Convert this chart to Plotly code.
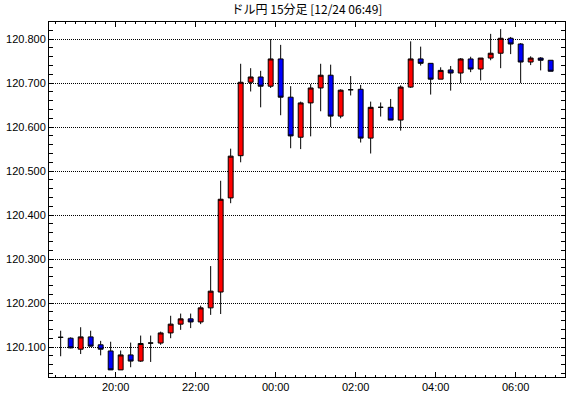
import pandas as pd
import plotly.graph_objects as go

title_text = "ドル円 15分足 [12/24 06:49]"

times = [
    "2015-12-23 18:30", "2015-12-23 18:45", "2015-12-23 19:00", "2015-12-23 19:15",
    "2015-12-23 19:30", "2015-12-23 19:45", "2015-12-23 20:00", "2015-12-23 20:15",
    "2015-12-23 20:30", "2015-12-23 20:45", "2015-12-23 21:00", "2015-12-23 21:15",
    "2015-12-23 21:30", "2015-12-23 21:45", "2015-12-23 22:00", "2015-12-23 22:15",
    "2015-12-23 22:30", "2015-12-23 22:45", "2015-12-23 23:00", "2015-12-23 23:15",
    "2015-12-23 23:30", "2015-12-23 23:45", "2015-12-24 00:00", "2015-12-24 00:15",
    "2015-12-24 00:30", "2015-12-24 00:45", "2015-12-24 01:00", "2015-12-24 01:15",
    "2015-12-24 01:30", "2015-12-24 01:45", "2015-12-24 02:00", "2015-12-24 02:15",
    "2015-12-24 02:30", "2015-12-24 02:45", "2015-12-24 03:00", "2015-12-24 03:15",
    "2015-12-24 03:30", "2015-12-24 03:45", "2015-12-24 04:00", "2015-12-24 04:15",
    "2015-12-24 04:30", "2015-12-24 04:45", "2015-12-24 05:00", "2015-12-24 05:15",
    "2015-12-24 05:30", "2015-12-24 05:45", "2015-12-24 06:00", "2015-12-24 06:15",
    "2015-12-24 06:30", "2015-12-24 06:45",
]

opens = [120.122, 120.120, 120.095, 120.123, 120.105, 120.091, 120.048, 120.082,
         120.068, 120.109, 120.109, 120.132, 120.152, 120.164, 120.157, 120.189,
         120.225, 120.439, 120.535, 120.702, 120.714, 120.693, 120.755, 120.668,
         120.577, 120.655, 120.689, 120.718, 120.625, 120.685, 120.686, 120.575,
         120.645, 120.645, 120.616, 120.691, 120.755, 120.745, 120.709, 120.730,
         120.723, 120.755, 120.732, 120.757, 120.768, 120.802, 120.789, 120.748,
         120.757, 120.752]
highs = [120.137, 120.122, 120.145, 120.137, 120.114, 120.112, 120.092, 120.110,
         120.126, 120.126, 120.135, 120.171, 120.176, 120.176, 120.194, 120.284,
         120.478, 120.551, 120.744, 120.734, 120.728, 120.800, 120.787, 120.693,
         120.658, 120.698, 120.744, 120.742, 120.686, 120.716, 120.696, 120.658,
         120.656, 120.664, 120.695, 120.795, 120.783, 120.745, 120.736, 120.739,
         120.757, 120.760, 120.757, 120.812, 120.823, 120.805, 120.791, 120.761,
         120.759, 120.752]
lows = [120.079, 120.097, 120.084, 120.101, 120.081, 120.048, 120.048, 120.054,
        120.066, 120.066, 120.105, 120.120, 120.139, 120.143, 120.152, 120.173,
        120.175, 120.427, 120.520, 120.681, 120.645, 120.689, 120.627, 120.552,
        120.550, 120.579, 120.636, 120.600, 120.620, 120.672, 120.565, 120.540,
        120.624, 120.616, 120.592, 120.689, 120.740, 120.674, 120.709, 120.683,
        120.700, 120.725, 120.706, 120.752, 120.734, 120.766, 120.700, 120.741,
        120.729, 120.727]
closes = [120.122, 120.098, 120.123, 120.102, 120.095, 120.048, 120.082, 120.068,
          120.108, 120.109, 120.132, 120.152, 120.164, 120.157, 120.189, 120.227,
          120.436, 120.534, 120.702, 120.714, 120.693, 120.755, 120.668, 120.580,
          120.655, 120.689, 120.718, 120.625, 120.684, 120.685, 120.575, 120.645,
          120.645, 120.616, 120.691, 120.755, 120.745, 120.709, 120.729, 120.723,
          120.755, 120.732, 120.757, 120.768, 120.802, 120.789, 120.748, 120.757,
          120.752, 120.727]

# candles centred in the middle of their 15-minute bucket
x_pos = pd.to_datetime(times) + pd.Timedelta(minutes=7.5)

fig = go.Figure(go.Candlestick(
    x=x_pos, open=opens, high=highs, low=lows, close=closes,
    increasing=dict(line=dict(color="black", width=1), fillcolor="#ff0000"),
    decreasing=dict(line=dict(color="black", width=1), fillcolor="#0000ff"),
    whiskerwidth=0,
    showlegend=False,
    hoverinfo="x+y",
))

tick_font = dict(family="Liberation Sans, Arial, sans-serif", size=11, color="black")

fig.update_layout(
    width=570, height=398,
    margin=dict(l=49, r=5, t=22, b=21),
    paper_bgcolor="white", plot_bgcolor="white",
    title=dict(text=title_text, x=0.5, xref="paper", xanchor="center",
               y=1 - 10 / 398, yref="container", yanchor="middle",
               font=dict(family="Noto Sans CJK JP, sans-serif", size=12, color="black")),
    xaxis=dict(
        type="date",
        range=["2015-12-23 18:20", "2015-12-24 07:14"],
        rangeslider=dict(visible=False),
        tick0="2015-12-23 20:00", dtick=7200000, tickformat="%H:%M",
        ticks="inside", ticklen=5, tickcolor="black", tickwidth=1,
        showline=True, linecolor="black", linewidth=1, mirror="allticks",
        showgrid=False, zeroline=False, automargin=False,
        tickfont=tick_font,
        minor=dict(dtick=900000, tick0="2015-12-23 20:00", ticks="inside",
                   ticklen=2, tickcolor="black", showgrid=False),
    ),
    yaxis=dict(
        range=[120.0318, 120.839],
        tick0=120.1, dtick=0.1, tickformat=".3f",
        ticks="inside", ticklen=4, tickcolor="black", tickwidth=1,
        showline=True, linecolor="black", linewidth=1, mirror="allticks",
        showgrid=True, gridcolor="black", gridwidth=1, griddash="1px,1px",
        zeroline=False, automargin=False,
        tickfont=tick_font,
        minor=dict(dtick=0.02, tick0=120.1, ticks="inside", ticklen=4,
                   tickcolor="black", showgrid=False),
    ),
)

fig.write_html("out.html",
               config={"displayModeBar": False},
               post_script="document.body.style.margin='0px';")
